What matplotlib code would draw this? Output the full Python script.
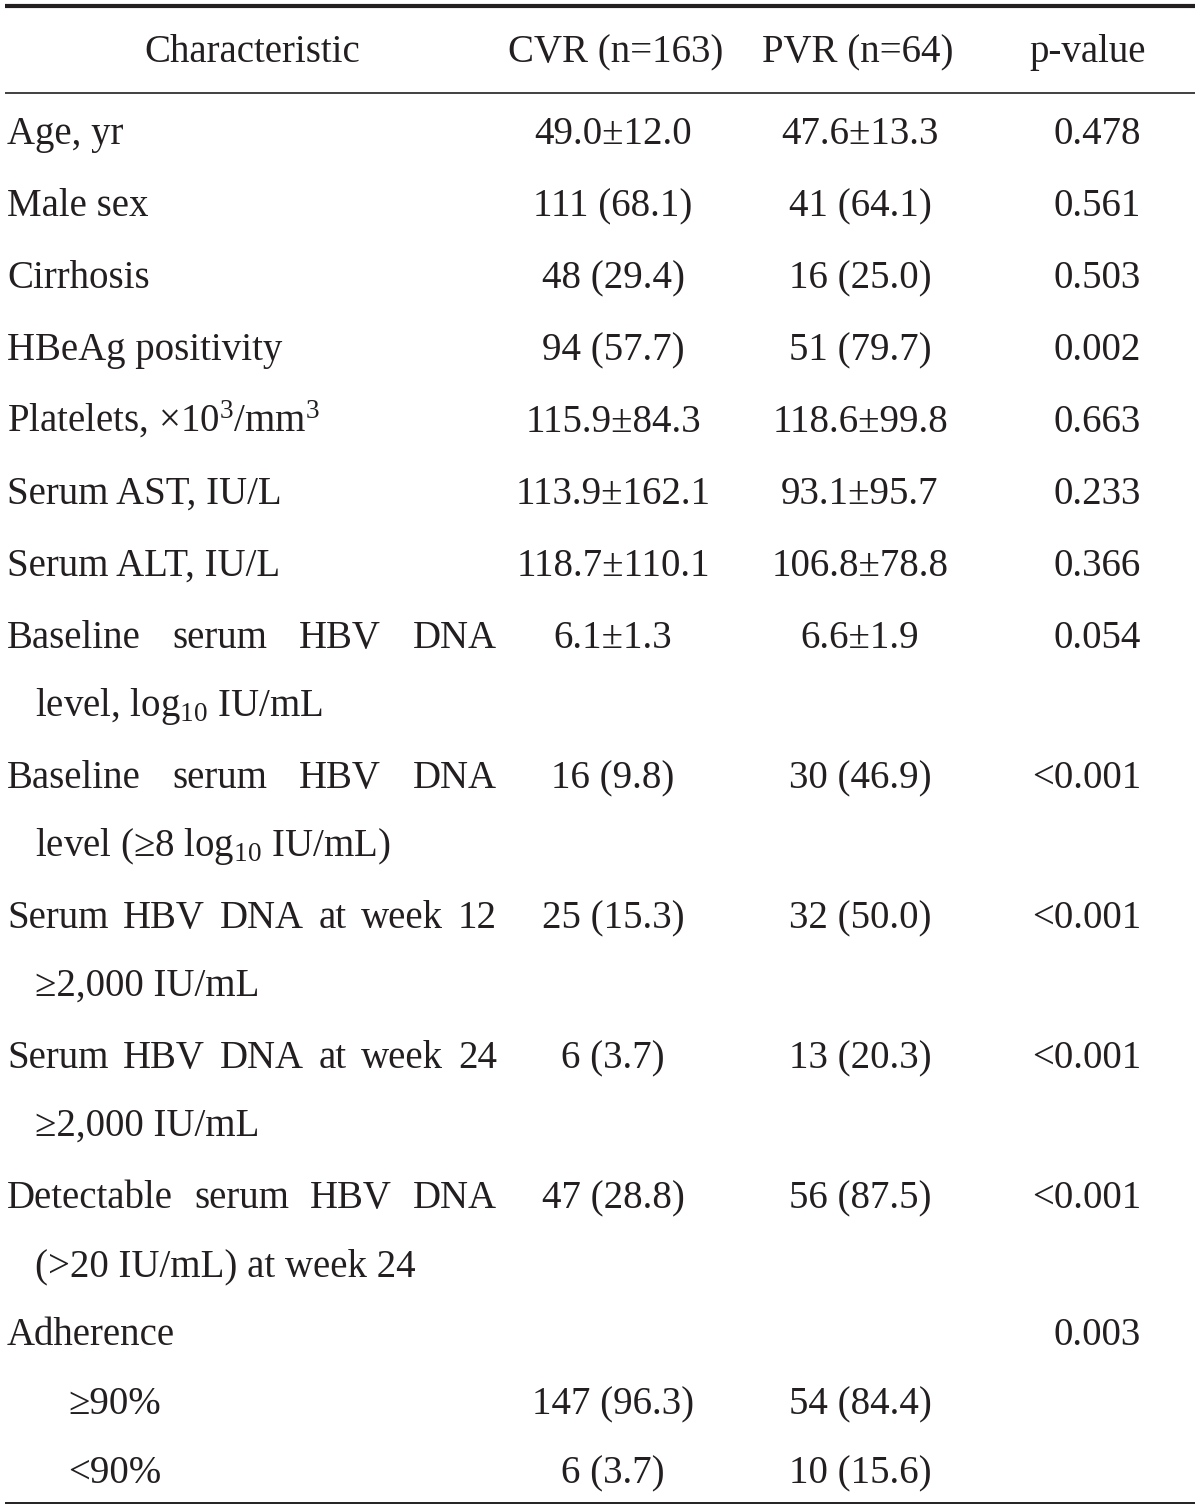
#! coding:utf-8
"""
Table: CVR vs PVR baseline characteristics, drawn as text on an empty axes
"""

import matplotlib
matplotlib.use('Agg')
import matplotlib.pyplot as plt

plt.rcParams['font.family'] = ['Liberation Serif', 'DejaVu Serif']
plt.rcParams['mathtext.fontset'] = 'custom'
plt.rcParams['mathtext.rm'] = 'Liberation Serif'
plt.rcParams['mathtext.it'] = 'Liberation Serif:italic'
plt.rcParams['mathtext.bf'] = 'Liberation Serif:bold'

# ---------------- data ----------------
headers = ['Characteristic', 'CVR (n=163)', 'PVR (n=64)', 'p-value']

# each label is a list of lines (wrapped rows have two)
labels = [
    ['Age, yr'],
    ['Male sex'],
    ['Cirrhosis'],
    ['HBeAg positivity'],
    [r'Platelets, ×$\mathrm{10}^{3}$/$\mathrm{mm}^{3}$'],
    ['Serum AST, IU/L'],
    ['Serum ALT, IU/L'],
    ['Baseline serum HBV DNA', r'level, $\mathrm{log}_{10}$ IU/mL'],
    ['Baseline serum HBV DNA', r'level (≥8 $\mathrm{log}_{10}$ IU/mL)'],
    ['Serum HBV DNA at week 12', '≥2,000 IU/mL'],
    ['Serum HBV DNA at week 24', '≥2,000 IU/mL'],
    ['Detectable serum HBV DNA', '(>20 IU/mL) at week 24'],
    ['Adherence'],
    ['≥90%'],
    ['<90%'],
]
sub_rows = [False] * 13 + [True, True]
grouped = [False] * 12 + [True, True, True]

cvr = ['49.0±12.0', '111 (68.1)', '48 (29.4)', '94 (57.7)', '115.9±84.3',
       '113.9±162.1', '118.7±110.1', '6.1±1.3', '16 (9.8)', '25 (15.3)',
       '6 (3.7)', '47 (28.8)', '', '147 (96.3)', '6 (3.7)']
pvr = ['47.6±13.3', '41 (64.1)', '16 (25.0)', '51 (79.7)', '118.6±99.8',
       '93.1±95.7', '106.8±78.8', '6.6±1.9', '30 (46.9)', '32 (50.0)',
       '13 (20.3)', '56 (87.5)', '', '54 (84.4)', '10 (15.6)']
pval = ['0.478', '0.561', '0.503', '0.002', '0.663', '0.233', '0.366',
        '0.054', '<0.001', '<0.001', '<0.001', '<0.001', '0.003', '', '']

# ---------------- layout (pixels) ----------------
W, H = 1200, 1509
FS = 28
COLOR = '#231f20'
X_LABEL = 7
X_WRAP = 35
X_SUB = 68
X_CVR = 613
X_PVR = 860
X_P = 1141
JUSTIFY_RIGHT = 497

Y_HEAD = 62
Y_FIRST = 144
ITEM_GAP = 72
WRAP_GAP = 68
GROUP_GAP = 69


def draw_justified(ax, renderer, line, x0, x1, y):
    words = line.split(' ')
    arts = [ax.text(0, y, w, fontsize=FS, color=COLOR, va='baseline', ha='left')
            for w in words]
    inv = ax.transData.inverted()
    widths = []
    for a in arts:
        bb = a.get_window_extent(renderer)
        p0 = inv.transform((bb.x0, bb.y0))
        p1 = inv.transform((bb.x1, bb.y0))
        widths.append(p1[0] - p0[0])
    gap = (x1 - x0 - sum(widths)) / max(len(words) - 1, 1)
    if gap < 0:
        gap = 0
    x = x0
    for a, w in zip(arts, widths):
        a.set_x(x)
        x += w + gap


def main():
    fig = plt.figure(figsize=(W / 100, H / 100), dpi=100)
    ax = fig.add_axes([0, 0, 1, 1])
    ax.set_xlim(0, W)
    ax.set_ylim(H, 0)
    ax.axis('off')
    renderer = fig.canvas.get_renderer()

    # rules
    ax.plot([5, 1195], [6, 6], color=COLOR, lw=3.0, solid_capstyle='butt')
    ax.plot([5, 1195], [93, 93], color=COLOR, lw=1.2, solid_capstyle='butt')
    ax.plot([5, 1195], [1503, 1503], color=COLOR, lw=1.4, solid_capstyle='butt')

    # header
    hx = [252, 616, 858, 1088]
    for x, h in zip(hx, headers):
        ax.text(x, Y_HEAD, h, fontsize=FS, color=COLOR, ha='center', va='baseline')

    y = Y_FIRST
    for i, lines in enumerate(labels):
        if i > 0:
            prev = len(labels[i - 1]) - 1
            gap = GROUP_GAP if grouped[i] else ITEM_GAP
            y += gap + prev * WRAP_GAP
        for j, line in enumerate(lines):
            yy = y + j * WRAP_GAP
            if j == 0 and len(lines) > 1:
                draw_justified(ax, renderer, line, X_LABEL, JUSTIFY_RIGHT, yy)
            else:
                if sub_rows[i]:
                    x = X_SUB
                elif j > 0:
                    x = X_WRAP
                else:
                    x = X_LABEL
                ax.text(x, yy, line, fontsize=FS, color=COLOR, ha='left', va='baseline')
        ax.text(X_CVR, y, cvr[i], fontsize=FS, color=COLOR, ha='center', va='baseline')
        ax.text(X_PVR, y, pvr[i], fontsize=FS, color=COLOR, ha='center', va='baseline')
        ax.text(X_P, y, pval[i], fontsize=FS, color=COLOR, ha='right', va='baseline')

    fig.savefig('out.png', dpi=100, facecolor='white')


if __name__ == '__main__':
    main()
